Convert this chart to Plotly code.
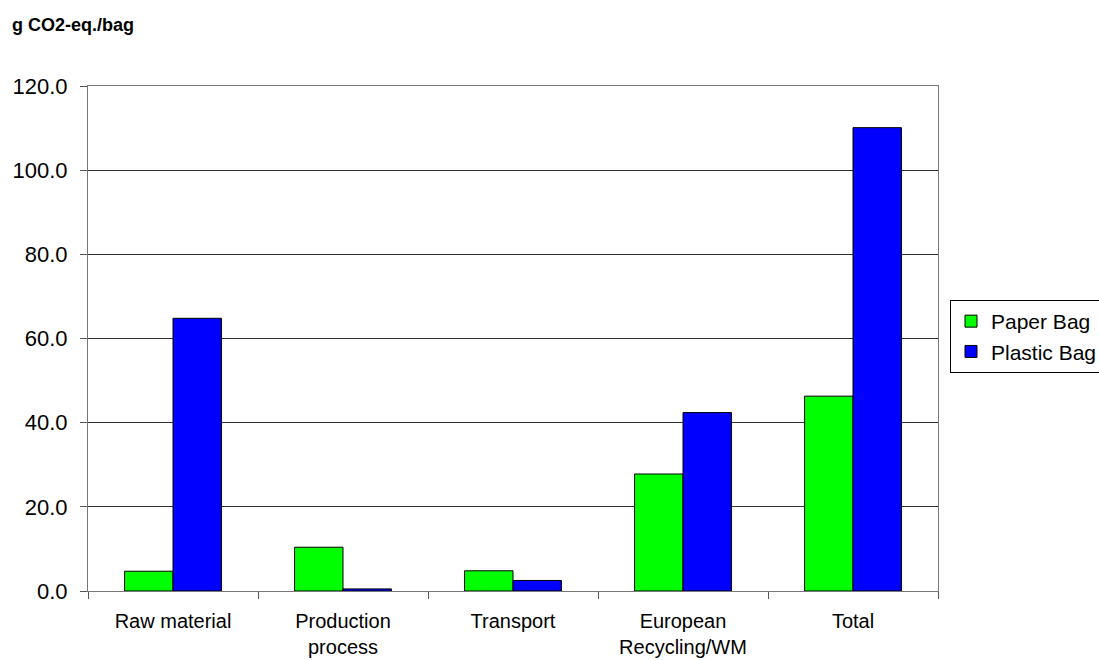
import plotly.graph_objects as go

categories = ["Raw material", "Production<br>process", "Transport", "European<br>Recycling/WM", "Total"]
paper_bag = [4.7, 10.4, 4.8, 27.8, 46.3]
plastic_bag = [64.8, 0.5, 2.5, 42.4, 110.1]
y_ticks = [0, 20, 40, 60, 80, 100, 120]

FONT = "Arial, Liberation Sans, sans-serif"

fig = go.Figure()
fig.add_trace(go.Bar(name="Paper Bag", x=categories, y=paper_bag,
                     marker=dict(color="#00FF00", line=dict(color="#000000", width=1))))
fig.add_trace(go.Bar(name="Plastic Bag", x=categories, y=plastic_bag,
                     marker=dict(color="#0000FF", line=dict(color="#000000", width=1))))

L, R, T, B = 88, 161, 86, 69
W, H = 1099, 660
pw, ph = W - L - R, H - T - B

fig.update_layout(
    width=W, height=H,
    margin=dict(l=L, r=R, t=T, b=B, autoexpand=False),
    paper_bgcolor="white", plot_bgcolor="white",
    font=dict(family=FONT, size=20, color="#000000"),
    barmode="group", bargap=0.43, bargroupgap=0,
    showlegend=True,
    legend=dict(x=(950 - L) / pw, y=(H - B - 300) / ph, xanchor="left", yanchor="top",
                bgcolor="white", bordercolor="#000000", borderwidth=1,
                font=dict(family=FONT, size=21, color="#000000"),
                tracegroupgap=0, itemwidth=30),
    xaxis=dict(type="category", tickson="boundaries", ticks="outside", ticklen=7,
               tickcolor="#555555", showline=True, linecolor="#777777", linewidth=1,
               mirror=True, showgrid=False, tickfont=dict(size=20),
               ticklabelstandoff=12),
    yaxis=dict(range=[0, 120], tickvals=y_ticks, tickformat=".1f", ticks="outside",
               ticklen=7, tickcolor="#555555", showline=True, linecolor="#777777",
               linewidth=1, mirror=True, showgrid=True, gridcolor="#333333",
               gridwidth=1, zeroline=False, tickfont=dict(size=22),
               ticklabelstandoff=8),
    annotations=[dict(text="<b>g CO2-eq./bag</b>", xref="paper", yref="paper",
                      x=(10 - L) / pw, y=(H - B - 25) / ph, xanchor="left",
                      yanchor="middle", showarrow=False,
                      font=dict(family=FONT, size=18, color="#000000"))],
)

fig.write_html("out.html")
